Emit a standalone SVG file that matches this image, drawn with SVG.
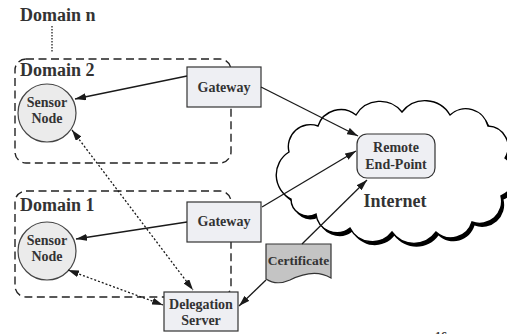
<svg xmlns="http://www.w3.org/2000/svg" width="507" height="334" viewBox="0 0 507 334">
  <style>
    .lbl { font-family: "Liberation Serif", "Times New Roman", serif; font-weight: bold; fill: #333; }
    .big { font-size: 18px; }
    .mid { font-size: 14px; text-anchor: middle; }
    .domain { fill: none; stroke: #222; stroke-width: 1.4; stroke-dasharray: 8 4.5; }
    .box { fill: #eeeff3; stroke: #333; stroke-width: 1.2; }
    .node { fill: #ebebeb; stroke: #444; stroke-width: 1.2; }
    .link { fill: none; stroke: #1a1a1a; stroke-width: 1.3; }
    .dot { fill: none; stroke: #1a1a1a; stroke-width: 1.3; stroke-dasharray: 2 2; }
  </style>
  <defs>
    <marker id="head" viewBox="0 0 11 7" refX="11" refY="3.5" markerWidth="11" markerHeight="7" markerUnits="userSpaceOnUse" orient="auto-start-reverse">
      <path d="M0,0 L11,3.5 L0,7 z" fill="#1a1a1a"/>
    </marker>
    <path id="cloudShape" d="M291,199 A27,27 0 0 1 289,152 A22,22 0 0 1 318,126 A24,24 0 0 1 356,115 A28,28 0 0 1 402,112 A29,29 0 0 1 450,115 A23,23 0 0 1 488,126 A21,21 0 0 1 505,158 A22,22 0 0 1 501,196 A22,22 0 0 1 472,222 A22,22 0 0 1 436,232 A27,27 0 0 1 392,232 A25,25 0 0 1 350,228 A21,21 0 0 1 316,214 A17,17 0 0 1 291,199 Z"/>
  </defs>

  <!-- Internet cloud with drop shadow -->
  <g id="internet">
    <use href="#cloudShape" transform="translate(2.5,3.5)" fill="#000"/>
    <use href="#cloudShape" fill="#fff" stroke="#000" stroke-width="1.4"/>
    <text class="lbl big" x="395" y="207" text-anchor="middle">Internet</text>
  </g>

  <!-- Domain labels and boundaries -->
  <g id="domain-n">
    <text class="lbl big" x="20" y="21">Domain n</text>
    <line x1="52" y1="26" x2="52" y2="53" stroke="#222" stroke-width="1.3" stroke-dasharray="1.5 1.5"/>
  </g>
  <g id="domain-2">
    <rect class="domain" x="15" y="59" width="216" height="104" rx="11"/>
    <text class="lbl big" x="20" y="76">Domain 2</text>
  </g>
  <g id="domain-1">
    <rect class="domain" x="15" y="191" width="216" height="106" rx="11"/>
    <text class="lbl big" x="20" y="211">Domain 1</text>
  </g>

  <!-- Nodes -->
  <g id="sensor-node-2">
    <circle class="node" cx="47" cy="113" r="29"/>
    <text class="lbl mid" x="47" y="107">Sensor</text>
    <text class="lbl mid" x="47" y="123">Node</text>
  </g>
  <g id="sensor-node-1">
    <circle class="node" cx="47" cy="251" r="29"/>
    <text class="lbl mid" x="47" y="245">Sensor</text>
    <text class="lbl mid" x="47" y="261">Node</text>
  </g>
  <g id="gateway-2">
    <rect class="box" x="187" y="67" width="74" height="40"/>
    <text class="lbl mid" x="224" y="92">Gateway</text>
  </g>
  <g id="gateway-1">
    <rect class="box" x="187" y="202" width="74" height="40"/>
    <text class="lbl mid" x="224" y="226">Gateway</text>
  </g>
  <g id="delegation-server">
    <rect class="box" x="164" y="292" width="74" height="39"/>
    <text class="lbl mid" x="201" y="309">Delegation</text>
    <text class="lbl mid" x="201" y="325">Server</text>
  </g>
  <g id="remote-end-point">
    <rect class="box" x="357" y="134" width="78" height="44" rx="10"/>
    <text class="lbl mid" x="396" y="152">Remote</text>
    <text class="lbl mid" x="396" y="169">End-Point</text>
  </g>
  <g id="certificate">
    <path d="M266,244 L331,244 L331,278 C318,270 302,274 290,280 C281,284 272,283 266,279 Z" fill="#c4c4c4" stroke="#333" stroke-width="1.2"/>
    <text class="lbl" x="298.5" y="265" font-size="13.5" text-anchor="middle">Certificate</text>
  </g>

  <!-- Connectors -->
  <g id="connectors">
    <line class="link" x1="187" y1="76" x2="75" y2="99" marker-end="url(#head)"/>
    <line class="link" x1="261" y1="87" x2="358" y2="136" marker-end="url(#head)"/>
    <line class="link" x1="187" y1="222" x2="76" y2="239" marker-end="url(#head)"/>
    <line class="link" x1="262" y1="207" x2="356" y2="151" marker-end="url(#head)"/>
    <line class="link" x1="302" y1="244" x2="367" y2="180" marker-end="url(#head)"/>
    <line class="link" x1="266" y1="280" x2="239" y2="306" marker-end="url(#head)"/>
    <line class="dot" x1="72" y1="130" x2="193" y2="290" marker-start="url(#head)" marker-end="url(#head)"/>
    <line class="dot" x1="68" y1="270" x2="163" y2="305" marker-start="url(#head)" marker-end="url(#head)"/>
  </g>

  <!-- page number, mostly below the bottom edge -->
  <text class="lbl" x="435" y="340" font-size="12" font-weight="normal">16</text>
</svg>
